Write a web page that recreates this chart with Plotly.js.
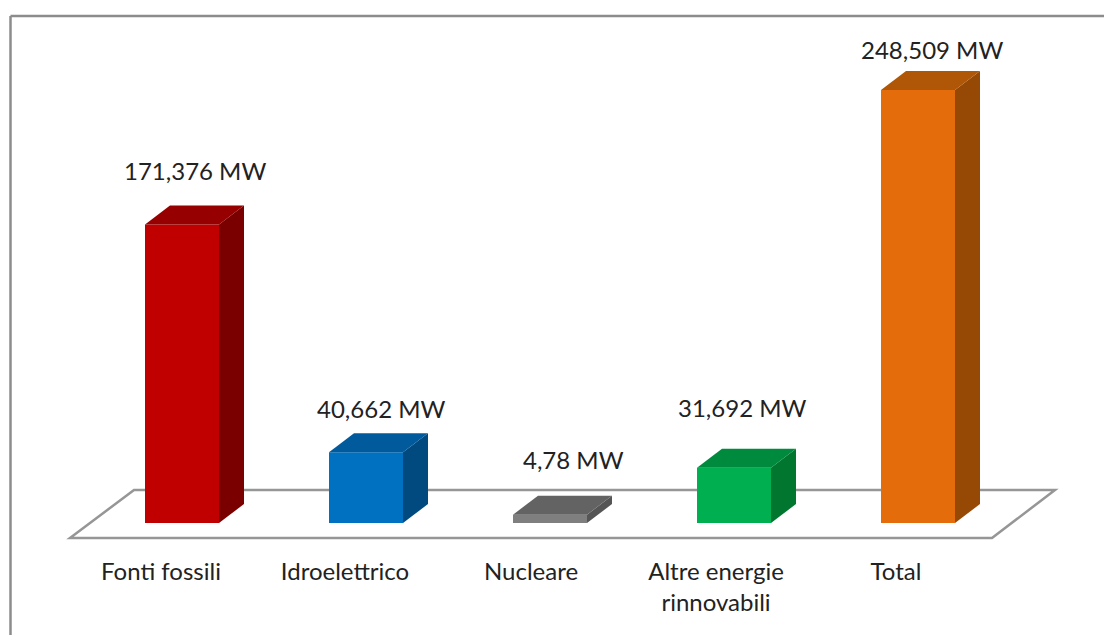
<!DOCTYPE html>
<html><head><meta charset="utf-8">
<script src="https://cdn.plot.ly/plotly-3.0.1.min.js"></script>
<style>html,body{margin:0;padding:0;background:#fff;overflow:hidden}#c{width:1104px;height:635px}</style>
</head><body><div id="c"></div>
<script>
const categories = ["Fonti fossili","Idroelettrico","Nucleare","Altre energie<br>rinnovabili","Total"];
const values = [171376,40662,4780,31692,248509];
const valueLabels = ["171,376 MW","40,662 MW","4,78 MW","31,692 MW","248,509 MW"];
const frontColors = ["#C00000","#0070C0","#7F7F7F","#00B050","#E46C0A"];
const sideColors = ["#7A0000","#004A80","#555555","#00762F","#964805"];
const topColors = ["#960000","#005A9C","#636363","#008A3E","#AF5607"];
const labelShiftX = [13,15,23,8,14];
const labelShiftY = [54,44,55,60,41];
const tickShiftX = [21,21,19,18,22];

const W=1104,H=635,plotH=540,base=523,x0=182,step=184,barPx=74,dxPx=25,dyPx=19;
const k=433/248509;
const px2x=p=>(p-x0)/step, off2y=p=>p/k;
const idx=values.map((_,i)=>i);
const hw=barPx/step/2, dx=dxPx/step, dy=off2y(dyPx);

const traces=[{type:'bar',x:idx,y:values,width:barPx/step,marker:{color:frontColors,line:{width:0}},hoverinfo:'skip',showlegend:false}];
idx.forEach(i=>{
  const r=i+hw,l=i-hw,v=values[i];
  traces.push({type:'scatter',mode:'lines',fill:'toself',fillcolor:sideColors[i],line:{width:0,color:sideColors[i]},
    x:[r,r+dx,r+dx,r,r],y:[0,dy,v+dy,v,0],hoverinfo:'skip',showlegend:false});
  traces.push({type:'scatter',mode:'lines',fill:'toself',fillcolor:topColors[i],line:{width:0,color:topColors[i]},
    x:[l,l+dx,r+dx,r,l],y:[v,v+dy,v+dy,v,v],hoverinfo:'skip',showlegend:false});
});

const floor=[[70,538],[134,490],[1055,490],[992,538]];
const floorPath='M'+floor.map(p=>px2x(p[0])+','+off2y(base-p[1])).join(' L')+' Z';
const fontFam='Lato, "Open Sans", sans-serif';

const layout={
  width:W,height:H,margin:{l:0,r:0,t:0,b:H-plotH,pad:0},
  paper_bgcolor:'#fff',plot_bgcolor:'rgba(0,0,0,0)',showlegend:false,
  xaxis:{range:[px2x(0),px2x(W)],tickmode:'array',tickvals:idx.map(i=>i-tickShiftX[i]/step),ticktext:categories,
    showgrid:false,zeroline:false,showline:false,ticks:'outside',ticklen:10,tickcolor:'rgba(0,0,0,0)',
    tickangle:0,tickfont:{family:fontFam,size:24,color:'#222'},automargin:false},
  yaxis:{range:[off2y(base-plotH),off2y(base)],visible:false},
  shapes:[
    {type:'path',path:floorPath,xref:'x',yref:'y',layer:'below',fillcolor:'#fff',line:{color:'#969696',width:2.5}},
    {type:'line',xref:'paper',yref:'paper',x0:10.5/W,x1:10.5/W,y0:-(H-plotH)/plotH,y1:(plotH-16)/plotH,line:{color:'#8c8c8c',width:2.5}},
    {type:'line',xref:'paper',yref:'paper',x0:10.5/W,x1:1,y0:(plotH-16)/plotH,y1:(plotH-16)/plotH,line:{color:'#8c8c8c',width:2.5}}
  ],
  annotations:idx.map(i=>({x:i,y:values[i],xref:'x',yref:'y',text:valueLabels[i],showarrow:false,
    xshift:labelShiftX[i],yshift:labelShiftY[i],xanchor:'center',yanchor:'middle',font:{family:fontFam,size:24,color:'#222'}}))
};
Plotly.newPlot('c',traces,layout,{displayModeBar:false,staticPlot:true});
</script></body></html>
